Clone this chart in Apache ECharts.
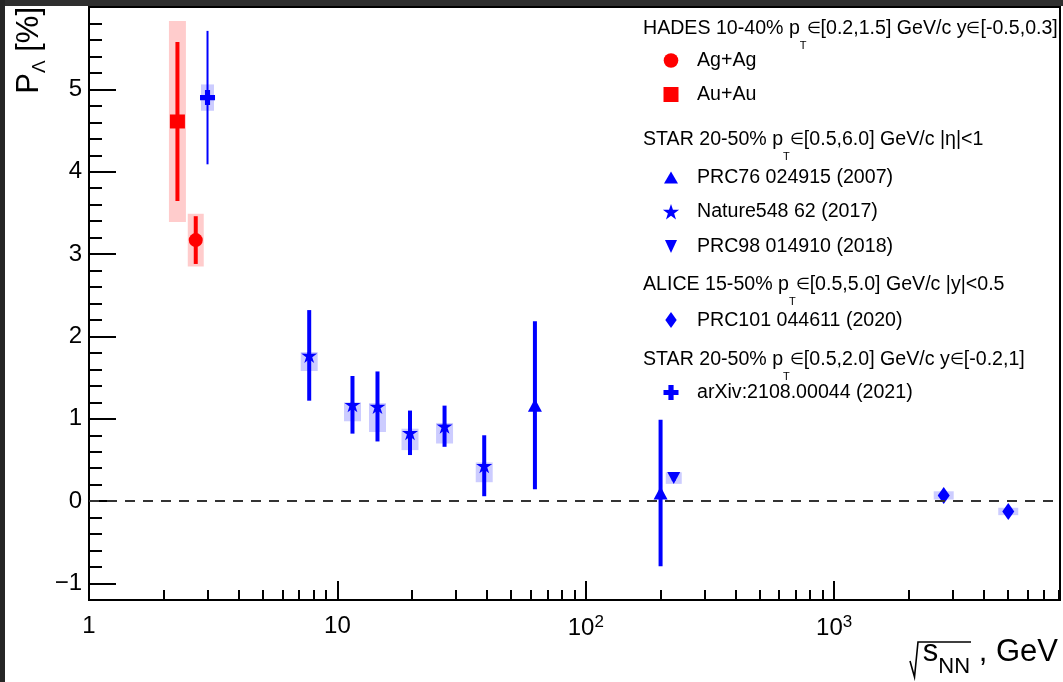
<!DOCTYPE html>
<html>
<head>
<meta charset="utf-8">
<script src="https://cdn.jsdelivr.net/npm/echarts@6/dist/echarts.min.js"></script>
<style>
html, body { margin: 0; padding: 0; background: #fff; }
#chart { width: 1063px; height: 682px; }
</style>
</head>
<body>
<div id="chart"></div>
<script>
// ---- Lambda global polarization vs collision energy (values in %) ----

// HADES 10-40%, Ag+Ag
const agEnergy = [2.69];
const agPol    = [3.17];
const agStat   = [0.29];
const agSysLo  = [0.32];
const agSysHi  = [0.32];

// HADES 10-40%, Au+Au
const auEnergy = [2.27];
const auPol    = [4.61];
const auStat   = [0.965];
const auSysLo  = [1.22];
const auSysHi  = [1.22];

// STAR PRC76 024915 (2007)
const prc76Energy = [62.4, 200];
const prc76Pol    = [1.165, 0.10];
const prc76Stat   = [1.02, 0.89];

// STAR Nature548 62 (2017)
const natEnergy = [7.7, 11.5, 14.5, 19.6, 27, 39];
const natPol    = [1.77, 1.17, 1.15, 0.83, 0.91, 0.43];
const natStat   = [0.55, 0.35, 0.425, 0.27, 0.25, 0.37];
const natSysLo  = [0.19, 0.20, 0.31, 0.21, 0.21, 0.20];
const natSysHi  = [0.04, 0.03, 0.04, 0.05, 0.04, 0.04];

// STAR PRC98 014910 (2018)
const prc98Energy = [226];
const prc98Pol    = [0.28];
const prc98Stat   = [0.03];
const prc98SysLo  = [0.07];
const prc98SysHi  = [0.07];

// ALICE PRC101 044611 (2020)
const aliceEnergy = [2760, 5020];
const alicePol    = [0.07, -0.125];
const aliceStat   = [0.02, 0.02];
const aliceSysLo  = [0.05, 0.045];
const aliceSysHi  = [0.05, 0.045];

// STAR arXiv:2108.00044 (2021)
const fxtEnergy = [3.0];
const fxtPol    = [4.90];
const fxtStat   = [0.81];
const fxtSysLo  = [0.16];
const fxtSysHi  = [0.16];

// axis ticks
const xMajorTicks = [1, 10, 100, 1000];
const yMajorTicks = [-1, 0, 1, 2, 3, 4, 5];
const X_MIN = 1, X_MAX = 8110, Y_MIN = -1.2, Y_MAX = 6;

const xMinorTicks = [];
for (let d = 1; d <= 1000; d *= 10) {
  for (let k = 2; k <= 9; k++) if (d * k <= X_MAX) xMinorTicks.push(d * k);
}
const yMinorTicks = [];
for (let i = -6; i <= 30; i++) yMinorTicks.push(+(i * 0.2).toFixed(1));

const RED = '#ff0000', BLUE = '#0000ff';
const RED_BOX = 'rgba(255,0,0,0.2)', BLUE_BOX = 'rgba(0,0,255,0.2)';
const FONT = '"Liberation Sans", Arial, Helvetica, sans-serif';

const STAR_PATH = 'path://M50 0 L61.17 34.63 L97.55 34.55 L68.07 55.87 L79.39 90.45 L50 69 L20.61 90.45 L31.93 55.87 L2.45 34.55 L38.83 34.63 Z';
const PLUS_PATH = 'path://M33,0H67V33H100V67H67V100H33V67H0V33H33Z';

// systematic-uncertainty boxes
function sysBoxes(E, P, lo, hi, color, w) {
  return {
    type: 'custom', silent: true, z: 1,
    data: E.map((e, i) => [e, P[i] - lo[i], P[i] + hi[i]]),
    encode: { x: 0, y: [1, 2] },
    renderItem: (params, api) => {
      const top = api.coord([api.value(0), api.value(2)]);
      const bot = api.coord([api.value(0), api.value(1)]);
      return {
        type: 'rect',
        shape: { x: top[0] - w / 2, y: top[1], width: w, height: bot[1] - top[1] },
        style: { fill: color }
      };
    }
  };
}

// statistical error bars
function statBars(E, P, s, color, lw) {
  return {
    type: 'custom', silent: true, z: 2,
    data: E.map((e, i) => [e, P[i] - s[i], P[i] + s[i]]),
    encode: { x: 0, y: [1, 2] },
    renderItem: (params, api) => {
      const top = api.coord([api.value(0), api.value(2)]);
      const bot = api.coord([api.value(0), api.value(1)]);
      return {
        type: 'line',
        shape: { x1: top[0], y1: top[1], x2: bot[0], y2: bot[1] },
        style: { stroke: color, lineWidth: lw }
      };
    }
  };
}

function markers(E, P, symbol, size, color, rotate) {
  return {
    type: 'scatter', silent: true, z: 3,
    data: E.map((e, i) => [e, P[i]]),
    symbol: symbol, symbolSize: size, symbolRotate: rotate || 0,
    itemStyle: { color: color, opacity: 1 }
  };
}

const series = [
  sysBoxes(auEnergy, auPol, auSysLo, auSysHi, RED_BOX, 17),
  sysBoxes(agEnergy, agPol, agSysLo, agSysHi, RED_BOX, 16),
  sysBoxes(natEnergy, natPol, natSysLo, natSysHi, BLUE_BOX, 17),
  sysBoxes(prc98Energy, prc98Pol, prc98SysLo, prc98SysHi, BLUE_BOX, 16),
  sysBoxes(aliceEnergy, alicePol, aliceSysLo, aliceSysHi, BLUE_BOX, 20),
  sysBoxes(fxtEnergy, fxtPol, fxtSysLo, fxtSysHi, BLUE_BOX, 13),

  statBars(auEnergy, auPol, auStat, RED, 4),
  statBars(agEnergy, agPol, agStat, RED, 4),
  statBars(prc76Energy, prc76Pol, prc76Stat, BLUE, 4),
  statBars(natEnergy, natPol, natStat, BLUE, 4),
  statBars(prc98Energy, prc98Pol, prc98Stat, BLUE, 4),
  statBars(aliceEnergy, alicePol, aliceStat, BLUE, 4),
  statBars(fxtEnergy, fxtPol, fxtStat, BLUE, 2),

  markers(auEnergy, auPol, 'rect', [15, 14], RED),
  markers(agEnergy, agPol, 'circle', 14, RED),
  markers(prc76Energy, prc76Pol, 'triangle', [14, 13], BLUE),
  markers(natEnergy, natPol, STAR_PATH, [16, 15], BLUE),
  markers(prc98Energy, prc98Pol, 'triangle', [13, 12], BLUE, 180),
  markers(aliceEnergy, alicePol, 'diamond', [12, 17], BLUE),
  markers(fxtEnergy, fxtPol, PLUS_PATH, [15, 15], BLUE)
];

// dashed zero line
series[0].markLine = {
  silent: true, symbol: 'none', animation: false,
  label: { show: false },
  lineStyle: { color: '#333', width: 2, type: [10, 8] },
  data: [{ yAxis: 0 }]
};

// ---- legend drawn with graphic elements ----
function starPts(cx, cy, R, r) {
  const pts = [];
  for (let k = 0; k < 10; k++) {
    const a = (-90 + k * 36) * Math.PI / 180;
    const rad = k % 2 ? r : R;
    pts.push([cx + rad * Math.cos(a), cy + rad * Math.sin(a)]);
  }
  return pts;
}
function plusPts(cx, cy, h, t) {
  return [[cx - t, cy - h], [cx + t, cy - h], [cx + t, cy - t], [cx + h, cy - t], [cx + h, cy + t],
          [cx + t, cy + t], [cx + t, cy + h], [cx - t, cy + h], [cx - t, cy + t], [cx - h, cy + t],
          [cx - h, cy - t], [cx - t, cy - t]];
}

const LX = 643, MX = 671, TX = 697, LF = 19.6;
const legRich = {
  sub: { fontSize: 11, fontFamily: FONT, color: '#000', padding: [34, 0, 0, 0] },
  el: { fontSize: 16, fontFamily: FONT, color: '#000' }
};
function legText(x, y, text) {
  return {
    type: 'text', x: x, y: y, silent: true,
    style: { text: text, fontSize: LF, fontFamily: FONT, fill: '#000',
             verticalAlign: 'middle', align: 'left', rich: legRich }
  };
}

const graphic = [
  { type: 'rect', shape: { x: 0, y: 0, width: 1063, height: 6 }, style: { fill: '#2f2f2f' }, silent: true },
  { type: 'rect', shape: { x: 0, y: 0, width: 5, height: 682 }, style: { fill: '#262626' }, silent: true },

  legText(LX, 29, 'HADES 10-40% p{sub|T}{el|\u2208}[0.2,1.5] GeV/c y{el|\u2208}[-0.5,0.3]'),
  { type: 'circle', shape: { cx: MX, cy: 60.5, r: 7.3 }, style: { fill: RED }, silent: true },
  legText(TX, 60.5, 'Ag+Ag'),
  { type: 'rect', shape: { x: 663.5, y: 87, width: 15, height: 15 }, style: { fill: RED }, silent: true },
  legText(TX, 94.5, 'Au+Au'),

  legText(LX, 139.5, 'STAR 20-50% p{sub|T}{el|\u2208}[0.5,6.0] GeV/c |\u03b7|<1'),
  { type: 'polygon', shape: { points: [[MX, 171.5], [MX + 7, 183.5], [MX - 7, 183.5]] }, style: { fill: BLUE }, silent: true },
  legText(TX, 177.5, 'PRC76 024915 (2007)'),
  { type: 'polygon', shape: { points: starPts(MX, 212.5, 8.5, 3.3) }, style: { fill: BLUE }, silent: true },
  legText(TX, 212, 'Nature548 62 (2017)'),
  { type: 'polygon', shape: { points: [[MX - 6, 240], [MX + 6, 240], [MX, 253]] }, style: { fill: BLUE }, silent: true },
  legText(TX, 246.5, 'PRC98 014910 (2018)'),

  legText(LX, 284.5, 'ALICE 15-50% p{sub|T}{el|\u2208}[0.5,5.0] GeV/c |y|<0.5'),
  { type: 'polygon', shape: { points: [[MX, 312], [MX + 5.7, 320], [MX, 328], [MX - 5.7, 320]] }, style: { fill: BLUE }, silent: true },
  legText(TX, 320.5, 'PRC101 044611 (2020)'),

  legText(LX, 360, 'STAR 20-50% p{sub|T}{el|\u2208}[0.5,2.0] GeV/c y{el|\u2208}[-0.2,1]'),
  { type: 'polygon', shape: { points: plusPts(MX, 392.5, 7.5, 2.6) }, style: { fill: BLUE }, silent: true },
  legText(TX, 392.5, 'arXiv:2108.00044 (2021)'),

  // y-axis title
  {
    type: 'text', x: 29, y: 7, rotation: Math.PI / 2, silent: true,
    style: {
      text: 'P{sub|\u039b} [%]', fontSize: 31, fontFamily: FONT, fill: '#000',
      align: 'right', verticalAlign: 'middle',
      rich: { sub: { fontSize: 19, fontFamily: FONT, color: '#000', padding: [22, 0, 0, 0] } }
    }
  },
  // x-axis title: radical sign + text
  {
    type: 'polyline', silent: true,
    shape: { points: [[910, 661], [914.5, 677], [918, 642], [971, 642]] },
    style: { stroke: '#000', lineWidth: 1.6, fill: null }
  },
  {
    type: 'text', x: 1058, y: 652, silent: true,
    style: {
      text: 's{sub|NN} , GeV', fontSize: 31, fontFamily: FONT, fill: '#000',
      align: 'right', verticalAlign: 'middle',
      rich: { sub: { fontSize: 22, fontFamily: FONT, color: '#000', padding: [30, 0, 0, 0] } }
    }
  }
];

const option = {
  animation: false,
  backgroundColor: '#ffffff',
  grid: { left: 89, right: 3, top: 7, bottom: 82, show: true, borderColor: '#000', borderWidth: 2, backgroundColor: 'transparent' },
  xAxis: [
    {
      type: 'log', logBase: 10, min: X_MIN, max: X_MAX, position: 'bottom',
      axisLine: { show: true, onZero: false, lineStyle: { color: '#000', width: 2 } },
      axisTick: { show: true, inside: true, length: 19, customValues: xMajorTicks, lineStyle: { color: '#000', width: 2 } },
      axisLabel: {
        show: true, customValues: xMajorTicks, margin: 14, color: '#000', fontSize: 24, fontFamily: FONT,
        formatter: v => (v < 100 ? String(Math.round(v)) : '10{sup|' + Math.round(Math.log10(v)) + '}'),
        rich: { sup: { fontSize: 17, fontFamily: FONT, color: '#000', padding: [0, 0, 12, 0] } }
      },
      splitLine: { show: false }
    },
    {
      type: 'log', logBase: 10, min: X_MIN, max: X_MAX, position: 'bottom',
      axisLine: { show: false, onZero: false },
      axisTick: { show: true, inside: true, length: 10, customValues: xMinorTicks, lineStyle: { color: '#000', width: 2 } },
      axisLabel: { show: false },
      splitLine: { show: false }
    }
  ],
  yAxis: [
    {
      type: 'value', min: Y_MIN, max: Y_MAX, position: 'left',
      axisLine: { show: true, onZero: false, lineStyle: { color: '#000', width: 2 } },
      axisTick: { show: true, inside: true, length: 27, customValues: yMajorTicks, lineStyle: { color: '#000', width: 2 } },
      axisLabel: {
        show: true, customValues: yMajorTicks, margin: 7, color: '#000', fontSize: 24, fontFamily: FONT,
        formatter: v => (v < 0 ? '\u2212' + Math.abs(v) : String(v))
      },
      splitLine: { show: false }
    },
    {
      type: 'value', min: Y_MIN, max: Y_MAX, position: 'left',
      axisLine: { show: false, onZero: false },
      axisTick: { show: true, inside: true, length: 13, customValues: yMinorTicks, lineStyle: { color: '#000', width: 2 } },
      axisLabel: { show: false },
      splitLine: { show: false }
    }
  ],
  series: series,
  graphic: graphic
};

const chart = echarts.init(document.getElementById('chart'), null, { renderer: 'canvas' });
chart.setOption(option);
</script>
</body>
</html>
